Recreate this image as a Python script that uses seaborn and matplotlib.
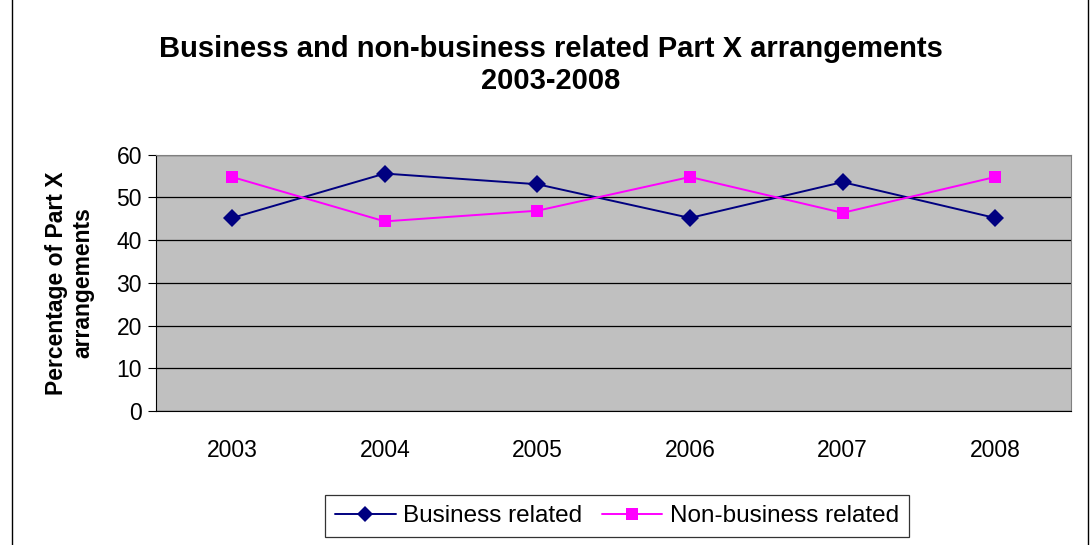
import matplotlib
matplotlib.use("Agg")
import matplotlib.pyplot as plt
import seaborn as sns
import pandas as pd
from matplotlib.patches import Rectangle

years = ["2003", "2004", "2005", "2006", "2007", "2008"]
business = [45.2, 55.6, 53.1, 45.2, 53.6, 45.2]
non_business = [54.8, 44.4, 46.9, 54.8, 46.4, 54.8]

sns.set_style("white")
plt.rcParams["font.family"] = ["Liberation Sans", "DejaVu Sans"]
plt.rcParams["text.color"] = "black"
plt.rcParams["axes.labelcolor"] = "black"
plt.rcParams["xtick.color"] = "black"
plt.rcParams["ytick.color"] = "black"

pos = list(range(len(years)))
df = pd.DataFrame({
    "x": pos + pos,
    "value": business + non_business,
    "series": ["Business related"] * 6 + ["Non-business related"] * 6,
})

fig = plt.figure(figsize=(10.9, 5.45), dpi=100)
ax = fig.add_axes([0.143, 0.246, 0.84, 0.47])
ax.set_facecolor("#C0C0C0")

sns.lineplot(data=df, x="x", y="value", hue="series", style="series",
             palette={"Business related": "#000080", "Non-business related": "#FF00FF"},
             markers={"Business related": "D", "Non-business related": "s"},
             dashes=False, markersize=9, linewidth=1.4, markeredgewidth=0,
             ax=ax, legend=False)

ax.set_xlim(-0.5, 5.5)
ax.set_ylim(0, 60)
ax.set_yticks(range(0, 61, 10))
ax.yaxis.grid(True, color="black", linewidth=0.9)
ax.set_axisbelow(True)
ax.set_xticks(pos)
ax.set_xticklabels(years, fontsize=16.5)
ax.set_xticks([p - 0.5 for p in pos] + [5.5], minor=True)
ax.tick_params(axis="x", which="major", length=0, pad=20)
ax.tick_params(axis="x", which="minor", length=6, direction="out", color="black")
ax.tick_params(axis="y", length=6, direction="out", color="black", labelsize=16.5, left=True, pad=4)
for s in ax.spines.values():
    s.set_color("#808080")
ax.spines["left"].set_color("black")
ax.spines["bottom"].set_color("black")
ax.set_xlabel("")
ax.set_ylabel("Percentage of Part X\narrangements", fontsize=16.5, fontweight="bold",
              labelpad=16, linespacing=1.2)

fig.suptitle("Business and non-business related Part X arrangements\n2003-2008",
             x=0.505, y=0.935, fontsize=21, fontweight="bold", linespacing=1.15)

h = [plt.Line2D([], [], color="#000080", marker="D", markersize=8, lw=1.4, markeredgewidth=0),
     plt.Line2D([], [], color="#FF00FF", marker="s", markersize=9, lw=1.4, markeredgewidth=0)]
leg = fig.legend(h, ["Business related", "Non-business related"], loc="center",
                 bbox_to_anchor=(0.566, 0.053), ncol=2, fontsize=17.5, frameon=True,
                 fancybox=False, edgecolor="black", handlelength=2.5, columnspacing=0.8,
                 handletextpad=0.3, borderpad=0.4, borderaxespad=0)
leg.get_frame().set_linewidth(0.9)

fig.patches.append(Rectangle((0.011, -0.01), 0.987, 1.02, transform=fig.transFigure,
                             fill=False, edgecolor="black", linewidth=1))

fig.savefig("out.png", dpi=100)
